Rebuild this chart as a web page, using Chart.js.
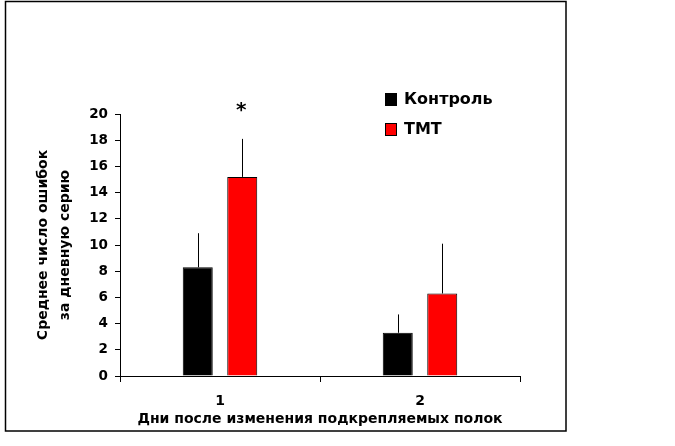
<!DOCTYPE html>
<html>
<head>
<meta charset="utf-8">
<script src="https://cdn.jsdelivr.net/npm/chart.js@4.4.1/dist/chart.umd.min.js"></script>
<style>
body{margin:0;background:#fff}
</style>
</head>
<body>
<canvas id="myChart" width="675" height="446"></canvas>
<script>
// data
var days = ['1', '2']
var controlMeans = [8.3, 3.3]
var controlErrors = [2.6, 1.4]
var tmtMeans = [15.2, 6.3]
var tmtErrors = [2.9, 3.8]
var tmtMarks = ['*', '']
var yTicks = [0, 2, 4, 6, 8, 10, 12, 14, 16, 18, 20]

Chart.defaults.font.family = "'DejaVu Sans', sans-serif"
Chart.defaults.font.weight = 'bold'
Chart.defaults.color = '#000'

var frame = {
    id: 'frame',
    beforeDraw: function(chart){
        var ctx = chart.ctx
        ctx.save()
        ctx.fillStyle = '#fff'
        ctx.fillRect(0, 0, chart.width, chart.height)
        ctx.strokeStyle = '#000'
        ctx.lineWidth = 1.5
        ctx.strokeRect(5.5, 1.5, 560.5, 429.5)
        ctx.restore()
    }
}

var errorBars = {
    id: 'errorBars',
    afterDatasetsDraw: function(chart){
        var ctx = chart.ctx
        var y = chart.scales.y
        ctx.save()
        ctx.strokeStyle = '#000'
        ctx.lineWidth = 1
        chart.data.datasets.forEach(function(ds, i){
            var meta = chart.getDatasetMeta(i)
            meta.data.forEach(function(bar, j){
                var top = y.getPixelForValue(ds.data[j] + ds.errors[j])
                var x = Math.round(bar.x) + 0.5
                ctx.beginPath()
                ctx.moveTo(x, bar.y)
                ctx.lineTo(x, top)
                ctx.stroke()
                if (ds.marks && ds.marks[j]) {
                    ctx.font = 'bold 20px "DejaVu Sans"'
                    ctx.textAlign = 'center'
                    ctx.textBaseline = 'middle'
                    ctx.fillStyle = '#000'
                    ctx.fillText(ds.marks[j], bar.x - 1, top - 28)
                }
            })
        })
        ctx.restore()
    }
}

var sideLegend = {
    id: 'sideLegend',
    afterDraw: function(chart){
        var ctx = chart.ctx
        ctx.save()
        ctx.font = 'bold 16px "DejaVu Sans"'
        ctx.textBaseline = 'middle'
        ctx.textAlign = 'left'
        chart.data.datasets.forEach(function(ds, i){
            var top = 93 + i * 30
            ctx.fillStyle = ds.backgroundColor
            ctx.fillRect(385, top, 12, 13)
            ctx.strokeStyle = '#000'
            ctx.lineWidth = 1
            ctx.strokeRect(385.5, top + 0.5, 11, 12)
            ctx.fillStyle = '#000'
            ctx.fillText(ds.label, 404, top + 7)
        })
        ctx.restore()
    }
}

var chartField = document.querySelector('#myChart').getContext('2d')

var myChart = new Chart(chartField, {
    type: 'bar',
    data: {
        labels: days,
        datasets: [{
            label: 'Контроль',
            data: controlMeans,
            errors: controlErrors,
            backgroundColor: '#000000',
            borderColor: '#000000',
            borderWidth: 1
        }, {
            label: 'ТМТ',
            data: tmtMeans,
            errors: tmtErrors,
            marks: tmtMarks,
            backgroundColor: '#ff0000',
            borderColor: '#000000',
            borderWidth: 1
        }]
    },
    options: {
        responsive: false,
        animation: false,
        barPercentage: 0.674,
        categoryPercentage: 0.445,
        layout: {padding: {top: 114, right: 155, left: 0, bottom: 0}},
        plugins: {
            legend: {display: false},
            tooltip: {enabled: false}
        },
        scales: {
            x: {
                afterFit: function(s){ s.height = 70 },
                grid: {drawOnChartArea: false, tickLength: 6, color: '#000'},
                border: {color: '#000', width: 1},
                ticks: {padding: 11, font: {size: 14}},
                title: {
                    display: true,
                    text: 'Дни после изменения подкрепляемых полок',
                    font: {size: 14, lineHeight: 1.2},
                    padding: {bottom: 18}
                }
            },
            y: {
                min: 0,
                max: 20,
                afterFit: function(s){ s.width = 120 },
                afterBuildTicks: function(s){ s.ticks = yTicks.map(function(v){ return {value: v} }) },
                grid: {drawOnChartArea: false, tickLength: 5, color: '#000'},
                border: {color: '#000', width: 1},
                ticks: {padding: 7, font: {size: 13.5}},
                title: {
                    display: true,
                    text: ['Среднее число ошибок', 'за дневную серию'],
                    font: {size: 14, lineHeight: 1.571},
                    padding: {top: 32}
                }
            }
        }
    },
    plugins: [frame, errorBars, sideLegend]
})
</script>
</body>
</html>
